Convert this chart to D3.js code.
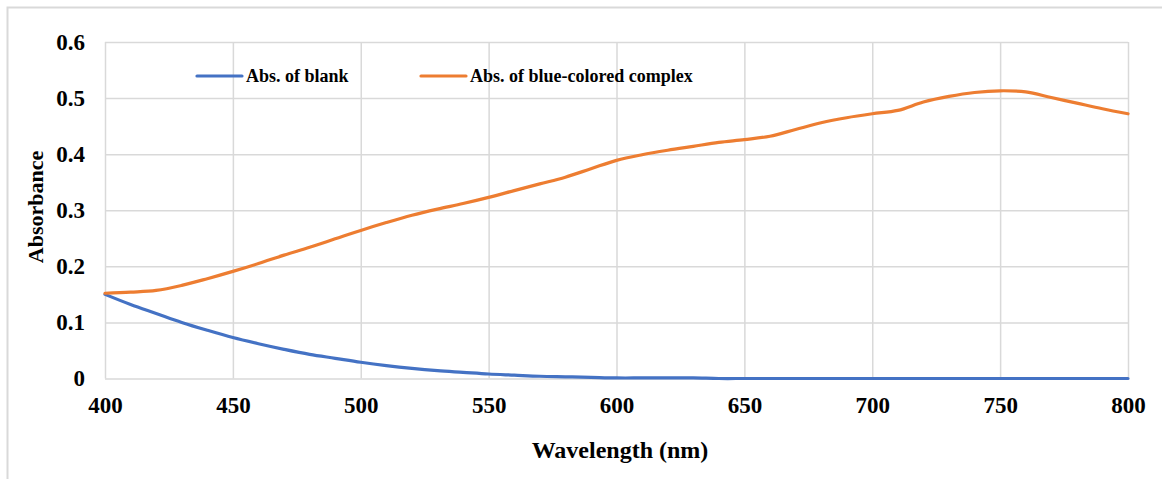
<!DOCTYPE html>
<html>
<head>
<meta charset="utf-8">
<script src="https://cdn.jsdelivr.net/npm/d3@7"></script>
<style>
  body { margin: 0; background: #fff; }
  svg { display: block; font-family: "Liberation Serif", "Times New Roman", serif; font-weight: bold; }
  .grid line { stroke: #d9d9d9; stroke-width: 1.5; }
  .grid text { fill: #000; font-size: 23px; font-family: "Liberation Serif", serif; font-weight: bold; }
</style>
</head>
<body>
<div id="chart"></div>
<script>
// wavelengths in nm, 10 nm steps
var wavelength = [400,410,420,430,440,450,460,470,480,490,500,510,520,530,540,550,560,570,580,590,
  600,610,620,630,640,650,660,670,680,690,700,710,720,730,740,750,760,770,780,790,800];

var blank = [0.150,0.132,0.116,0.100,0.086,0.073,0.062,0.052,0.043,0.036,0.029,0.023,0.018,0.014,0.011,
  0.008,0.006,0.004,0.003,0.002,0.001,0.001,0.001,0.001,0.000,0.000,0.000,0.000,0.000,0.000,
  0.000,0.000,0.000,0.000,0.000,0.000,0.000,0.000,0.000,0.000,0.000];

var complex = [0.152,0.154,0.157,0.166,0.178,0.191,0.205,0.220,0.234,0.249,0.264,0.278,0.291,0.302,0.312,
  0.323,0.335,0.347,0.359,0.374,0.389,0.399,0.407,0.414,0.421,0.426,0.432,0.444,0.456,0.465,
  0.472,0.478,0.493,0.503,0.510,0.513,0.511,0.501,0.491,0.481,0.472];

var xTicks = [400,450,500,550,600,650,700,750,800];
var yTicks = [0,0.1,0.2,0.3,0.4,0.5,0.6];
var seriesNames = ["Abs. of blank", "Abs. of blue-colored complex"];
var seriesColors = ["#4472c4", "#ed7d31"];

var width = 1162, height = 479;
var plotLeft = 105, plotRight = 1128, plotTop = 42, plotBottom = 378.5;

var svg = d3.select("#chart").append("svg")
  .attr("width", width)
  .attr("height", height);

// outer frame
svg.append("rect")
  .attr("x", 7.5).attr("y", 7.5)
  .attr("width", 1200).attr("height", 520)
  .attr("fill", "none")
  .attr("stroke", "#d9d9d9")
  .attr("stroke-width", 2);

var x = d3.scaleLinear().domain([400, 800]).range([plotLeft, plotRight]);
var y = d3.scaleLinear().domain([0, 0.6]).range([plotBottom, plotTop]);

// horizontal grid + y labels
svg.append("g")
  .attr("class", "grid")
  .attr("transform", "translate(" + plotLeft + ",0)")
  .call(d3.axisLeft(y).tickValues(yTicks).tickSize(-(plotRight - plotLeft)).tickPadding(20)
    .tickFormat(function(d) { return d === 0 ? "0" : d3.format(".1f")(d); }))
  .call(function(g) { g.select(".domain").remove(); });

// vertical grid + x labels
svg.append("g")
  .attr("class", "grid")
  .attr("transform", "translate(0," + plotBottom + ")")
  .call(d3.axisBottom(x).tickValues(xTicks).tickSize(-(plotBottom - plotTop)).tickPadding(18)
    .tickFormat(d3.format("d")))
  .call(function(g) { g.select(".domain").remove(); });

var line = d3.line()
  .x(function(d) { return x(d[0]); })
  .y(function(d) { return y(d[1]); })
  .curve(d3.curveCatmullRom.alpha(0.5));

[blank, complex].forEach(function(vals, i) {
  svg.append("path")
    .datum(wavelength.map(function(w, j) { return [w, vals[j]]; }))
    .attr("fill", "none")
    .attr("stroke", seriesColors[i])
    .attr("stroke-width", 3.2)
    .attr("stroke-linecap", "round")
    .attr("d", line);
});

// legend
var legendX = [197, 421];
seriesNames.forEach(function(name, i) {
  svg.append("line")
    .attr("x1", legendX[i]).attr("x2", legendX[i] + 45)
    .attr("y1", 76).attr("y2", 76)
    .attr("stroke", seriesColors[i])
    .attr("stroke-width", 3.2)
    .attr("stroke-linecap", "round");
  svg.append("text")
    .attr("x", legendX[i] + 49)
    .attr("y", 82)
    .attr("font-size", 18)
    .text(name);
});

// axis titles
svg.append("text")
  .attr("x", 620)
  .attr("y", 458)
  .attr("text-anchor", "middle")
  .attr("font-size", 24)
  .text("Wavelength (nm)");

svg.append("text")
  .attr("transform", "translate(43,207) rotate(-90)")
  .attr("text-anchor", "middle")
  .attr("font-size", 22)
  .text("Absorbance");
</script>
</body>
</html>
